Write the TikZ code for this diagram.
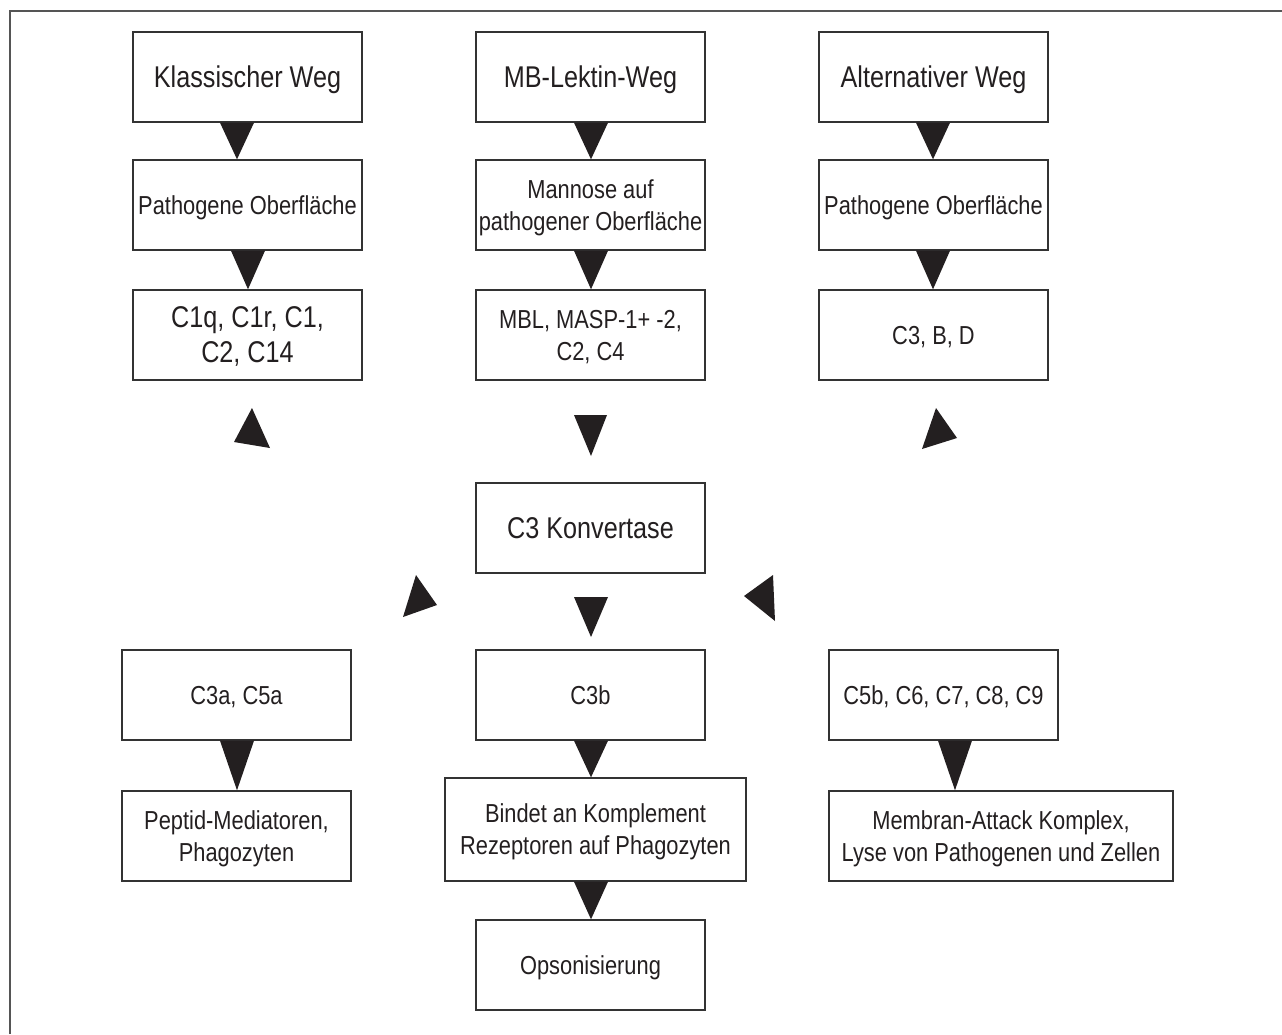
\documentclass[tikz,border=0pt]{standalone}
\usepackage{fontspec}
\setmainfont[FakeStretch=0.84]{Liberation Sans}
\usetikzlibrary{calc}
\definecolor{ink}{HTML}{231F20}
\definecolor{linec}{HTML}{333333}
\definecolor{framec}{HTML}{555555}
\tikzset{
  box/.style={draw=linec, line width=1.4pt, minimum width=229pt, minimum height=90pt,
    inner sep=0pt, align=center, text=ink, text depth=0pt, font=\fontsize{26}{32}\selectfont},
  title/.style={font=\fontsize{30}{35}\selectfont},
  tri/.style={fill=ink}
}
\newcommand\dtri[3]{\fill[tri] let \p1=(#1.south), \p2=(#2.north) in (#3pt-17pt,\y1) -- (#3pt+17pt,\y1) -- (#3pt,\y2) -- cycle;}
\begin{document}
\begin{tikzpicture}[x=1pt,y=-1pt]
\useasboundingbox (0,0) rectangle (1282,1034);
\fill[white] (0,0) rectangle (1282,1034);
\draw[framec, line width=2pt] (10,1034) -- (10,11) -- (1282,11);

\node[box,title] (k1) at (247.5,77) {Klassischer Weg};
\node[box,title] (m1) at (590.5,77) {MB-Lektin-Weg};
\node[box,title] (a1) at (933.5,77) {Alternativer Weg};
\node[box] (k2) at (247.5,205) {Pathogene Oberfläche};
\node[box] (m2) at (590.5,205) {Mannose auf\\pathogener Oberfläche};
\node[box] (a2) at (933.5,205) {Pathogene Oberfläche};
\node[box,title] (k3) at (247.5,335) {C1q, C1r, C1,\\C2, C14};
\node[box] (m3) at (590.5,335) {MBL, MASP-1+ -2,\\C2, C4};
\node[box] (a3) at (933.5,335) {C3, B, D};
\node[box,title] (c3) at (590.5,528) {C3 Konvertase};
\node[box] (l1) at (236.5,695) {C3a, C5a};
\node[box] (cb) at (590.5,695) {C3b};
\node[box] (r1) at (943.5,695) {C5b, C6, C7, C8, C9};
\node[box] (l2) at (236.5,836) {Peptid-Mediatoren,\\Phagozyten};
\node[box, minimum width=301pt, minimum height=103pt] (cb2) at (595.5,829.5) {Bindet an Komplement\\Rezeptoren auf Phagozyten};
\node[box, minimum width=344pt] (r2) at (1001,836) {Membran-Attack Komplex,\\Lyse von Pathogenen und Zellen};
\node[box] (op) at (590.5,965) {Opsonisierung};

% downward arrowheads between boxes
\dtri{k1}{k2}{237}
\dtri{k2}{k3}{248}
\dtri{m1}{m2}{591}
\dtri{m2}{m3}{591}
\dtri{a1}{a2}{933}
\dtri{a2}{a3}{933}
\dtri{l1}{l2}{237}
\dtri{cb}{cb2}{591}
\dtri{r1}{r2}{955}
\dtri{cb2}{op}{591}

% free arrowheads around the C3 convertase
\fill[tri] (574,415) -- (607,415) -- (591,456) -- cycle;
\fill[tri] (574,597) -- (608,597) -- (591,637) -- cycle;
\fill[tri] (252,408) -- (234,442) -- (270,448) -- cycle;
\fill[tri] (936,408) -- (922,449) -- (957,438) -- cycle;
\fill[tri] (416,575) -- (403,617) -- (437,605) -- cycle;
\fill[tri] (744,596) -- (773,575) -- (775,621) -- cycle;
\end{tikzpicture}
\end{document}
